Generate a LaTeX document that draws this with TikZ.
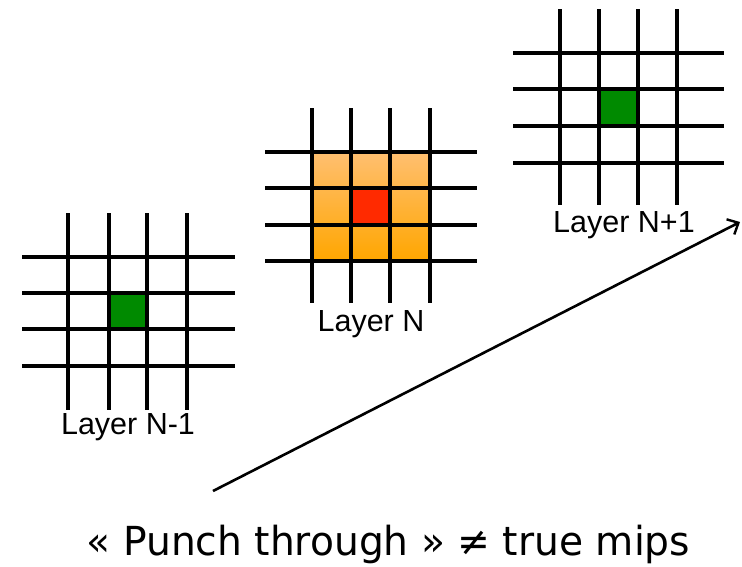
\documentclass[tikz,border=0pt]{standalone}
\usepackage{fontspec}
\setmainfont{Liberation Sans}
\newfontfamily\captionfont[FakeStretch=0.98]{DejaVu Sans}
\usetikzlibrary{arrows.meta}

\definecolor{cellgreen}{HTML}{008A00}
\definecolor{cellred}{HTML}{FF2A00}
\definecolor{orangetop}{HTML}{FFBF70}
\definecolor{orangebot}{HTML}{FFA600}

\tikzset{
  gridline/.style={line width=3.6pt, black},
  layerlabel/.style={anchor=base, inner sep=0pt, font=\fontsize{30.5}{30.5}\selectfont},
  bigcaption/.style={anchor=base, inner sep=0pt, font=\captionfont\fontsize{40}{40}\selectfont},
  punch/.style={line width=2.6pt, -{Straight Barb[length=9pt,width=17pt,line width=2.4pt]}},
}

\begin{document}
\begin{tikzpicture}[x=1pt,y=-1pt]
  \useasboundingbox (0,0) rectangle (742,566);

  % Layer N-1
  \fill[cellgreen] (109,293) rectangle (147,329);
  \foreach \xx in {68,109,147,187} {\draw[gridline] (\xx,213) -- (\xx,410);}
  \foreach \yy in {257,293,329,366} {\draw[gridline] (22,\yy) -- (235,\yy);
    \draw[line width=4.6pt] (207,\yy) -- (235,\yy);}
  \node[layerlabel] (lnm1) at (128,434) {Layer N-1};

  % Layer N
  \shade[top color=orangetop, bottom color=orangebot] (312,152) rectangle (430,261);
  \fill[cellred] (351,188) rectangle (390,225);
  \foreach \xx in {312,351,390,430} {\draw[gridline] (\xx,108) -- (\xx,303);}
  \foreach \yy in {152,188,225,261} {\draw[gridline] (265,\yy) -- (477,\yy);}
  \node[layerlabel] (ln) at (371,331) {Layer N};

  % Layer N+1
  \fill[cellgreen] (599,89) rectangle (638,126);
  \foreach \xx in {560,599,638,677} {\draw[gridline] (\xx,9) -- (\xx,205);}
  \foreach \yy in {53,89,126,163} {\draw[gridline] (513,\yy) -- (724,\yy);}
  \node[layerlabel] (lnp1) at (624,232) {Layer N+1};

  % Punch-through arrow
  \coordinate (tail) at (213,491);
  \coordinate (tip) at (740,222);
  \draw[punch] (tail) -- (tip);

  \node[bigcaption] (caption) at (388.5,555) {« Punch through » ≠ true mips};
\end{tikzpicture}
\end{document}
